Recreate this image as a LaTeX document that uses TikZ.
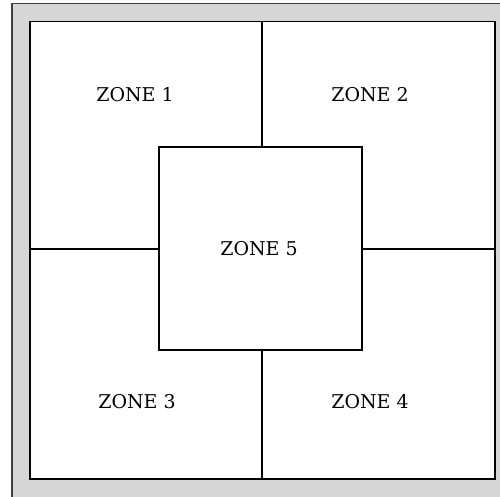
\documentclass[tikz,border=0pt]{standalone}
\usepackage{fontspec}
\setmainfont{DejaVu Serif}
\begin{document}
\begin{tikzpicture}[x=1pt,y=1pt,
  zonelabel/.style={font=\fontsize{19}{22}\selectfont, inner sep=0pt},
  divider/.style={draw=black, line width=1.4pt},
  boxline/.style={draw=black, line width=1.5pt}]
\useasboundingbox (0,0) rectangle (500,496);
% outer gray frame (extends past right and bottom edge)
\node[draw=black!75, line width=1.5pt, fill=black!16, minimum width=501pt, minimum height=510pt, inner sep=0pt, anchor=north west] (outer) at (11,493) {};
% inner white area
\node[boxline, fill=white, minimum width=465pt, minimum height=457pt, inner sep=0pt, anchor=north west] (frame) at (29,475) {};
% central zone 5 square
\node[boxline, fill=white, minimum width=203pt, minimum height=203pt, inner sep=0pt] (z5) at (260.5,247.5) {};
\node[zonelabel] (l5) at (259,247) {ZONE 5};
% dividers
\coordinate (vt) at (262,475);
\coordinate (vtb) at (262,350);
\coordinate (vb) at (262,18);
\coordinate (vbt) at (262,146);
\coordinate (hl) at (29,247);
\coordinate (hlr) at (159,247);
\coordinate (hr) at (494,247);
\coordinate (hrl) at (362,247);
\draw[divider] (vt) -- (vtb);
\draw[divider] (vbt) -- (vb);
\draw[divider] (hl) -- (hlr);
\draw[divider] (hrl) -- (hr);
% labels
\node[zonelabel] (l1) at (135,401) {ZONE 1};
\node[zonelabel] (l2) at (370,401) {ZONE 2};
\node[zonelabel] (l3) at (137,94) {ZONE 3};
\node[zonelabel] (l4) at (370,94) {ZONE 4};
\end{tikzpicture}
\end{document}
